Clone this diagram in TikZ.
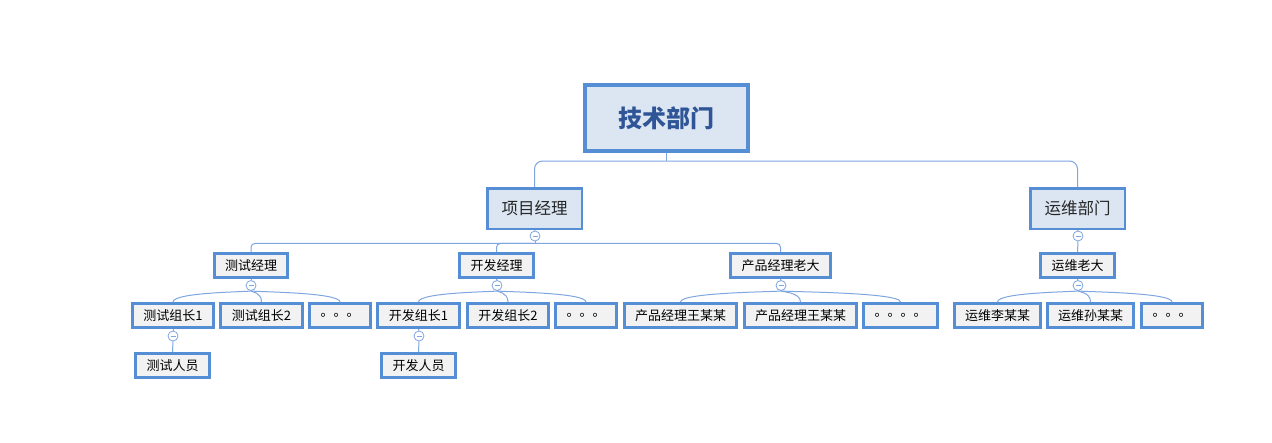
\documentclass[tikz,border=0pt]{standalone}
\usepackage{fontspec}
\setmainfont{Noto Sans CJK SC}
\usetikzlibrary{calc}
\definecolor{boxedge}{RGB}{85,142,213}
\definecolor{paleblue}{RGB}{220,230,242}
\definecolor{palegray}{RGB}{242,242,242}
\definecolor{rootblue}{RGB}{47,85,151}
\definecolor{linkblue}{RGB}{126,166,224}
\definecolor{inkgray}{RGB}{38,38,38}
\tikzset{
  rootbox/.style={rectangle,draw=boxedge,fill=paleblue,line width=4pt,
                  minimum width=163pt,minimum height=66pt,text=rootblue,
                  font=\fontsize{24}{28}\selectfont\bfseries},
  deptbox/.style={rectangle,draw=boxedge,fill=paleblue,line width=2.5pt,
                  minimum width=94.5pt,minimum height=40.5pt,text=inkgray,
                  font=\fontsize{16.5}{20}\selectfont},
  staff/.style={rectangle,draw=boxedge,fill=palegray,line width=3pt,
                minimum width=#1,minimum height=24pt,inner sep=0pt,
                text=black,font=\fontsize{13}{16}\selectfont},
  staff/.default=74pt,
  fold/.style={circle,draw=linkblue,fill=white,minimum size=10pt,
               inner sep=0pt,line width=0.8pt,
               path picture={\draw[linkblue,line width=0.8pt]
                 ([xshift=2.5pt]path picture bounding box.west) --
                 ([xshift=-2.5pt]path picture bounding box.east);}},
  link/.style={draw=linkblue,line width=1pt},
}
\begin{document}
\begin{tikzpicture}[x=1pt,y=-1pt]
  \useasboundingbox[fill=white] (0,0) rectangle (1272,442);

    % Root
    \node[rootbox] (root) at (666.5,118) {技术部门};

    % Departments
    \node[deptbox] (proj) at (534.5,208.5) {项目经理};
    \node[deptbox] (ops) at (1077.5,208.5) {运维部门};

    % Managers
    \node[staff=73pt] (testmgr) at (251,265.5) {测试经理};
    \node[staff=74pt] (devmgr) at (496.5,265.5) {开发经理};
    \node[staff=100pt] (prodmgr) at (780.5,265.5) {产品经理老大};
    \node[staff=74pt] (opsmgr) at (1077.5,265.5) {运维老大};

    % Leads
    \node[staff=81pt] (test1) at (173,315.5) {测试组长1};
    \node[staff=82pt] (test2) at (261.5,315.5) {测试组长2};
    \node[staff=61pt] (testmore) at (340,315.5) {。。。};
    \node[staff=82pt] (dev1) at (418.5,315.5) {开发组长1};
    \node[staff=81pt] (dev2) at (508,315.5) {开发组长2};
    \node[staff=61pt] (devmore) at (586,315.5) {。。。};
    \node[staff=112pt] (prod1) at (680.5,315.5) {产品经理王某某};
    \node[staff=112pt] (prod2) at (800.5,315.5) {产品经理王某某};
    \node[staff=74pt] (prodmore) at (900.5,315.5) {。。。。};
    \node[staff=86pt] (ops1) at (997.5,315.5) {运维李某某};
    \node[staff=86pt] (ops2) at (1090.5,315.5) {运维孙某某};
    \node[staff=61pt] (opsmore) at (1172,315.5) {。。。};

    % Staff
    \node[staff] (teststaff) at (172.5,365.5) {测试人员};
    \node[staff] (devstaff) at (418.5,365.5) {开发人员};

    % Fold buttons
    \node[fold] (fproj) at (535,236) {};
    \node[fold] (fops) at (1078,236) {};
    \node[fold] (ftest) at (251,285.5) {};
    \node[fold] (fdev) at (497,285.5) {};
    \node[fold] (fprod) at (781,285.5) {};
    \node[fold] (fopsmgr) at (1078,285.5) {};
    \node[fold] (ftest1) at (173,336) {};
    \node[fold] (fdev1) at (419,336) {};

    % Root to departments
    \draw[link] (root.south) -- ++(0,8) coordinate (rootjoin);
    \draw[link,rounded corners=8pt] (rootjoin) -| (proj.north);
    \draw[link,rounded corners=8pt] (rootjoin) -| (ops.north);

    % Departments to managers
    \draw[link] (proj.south) -- (fproj.north);
    \draw[link] (fproj.south) -- ++(0,2) coordinate (projjoin);
    \draw[link,rounded corners=4pt] (projjoin) -| (testmgr.north);
    \draw[link,rounded corners=4pt] (projjoin) -| (devmgr.north);
    \draw[link,rounded corners=4pt] (projjoin) -| (prodmgr.north);
    \draw[link] (ops.south) -- (fops.north);
    \draw[link] (fops.south) -- (opsmgr.north);

    % Managers to leads
    \draw[link] (testmgr.south) -- (ftest.north);
    \draw[link] (devmgr.south) -- (fdev.north);
    \draw[link] (prodmgr.south) -- (fprod.north);
    \draw[link] (opsmgr.south) -- (fopsmgr.north);
    \foreach \kid in {test1,test2,testmore}
      \draw[link] (ftest.south) .. controls +(0,1) and +(0,-10) .. (\kid.north);
    \foreach \kid in {dev1,dev2,devmore}
      \draw[link] (fdev.south) .. controls +(0,1) and +(0,-10) .. (\kid.north);
    \foreach \kid in {prod1,prod2,prodmore}
      \draw[link] (fprod.south) .. controls +(0,1) and +(0,-10) .. (\kid.north);
    \foreach \kid in {ops1,ops2,opsmore}
      \draw[link] (fopsmgr.south) .. controls +(0,1) and +(0,-10) .. (\kid.north);

    % Leads to staff
    \draw[link] (test1.south) -- (ftest1.north);
    \draw[link] (ftest1.south) -- (teststaff.north);
    \draw[link] (dev1.south) -- (fdev1.north);
    \draw[link] (fdev1.south) -- (devstaff.north);

  \end{tikzpicture}
\end{document}
